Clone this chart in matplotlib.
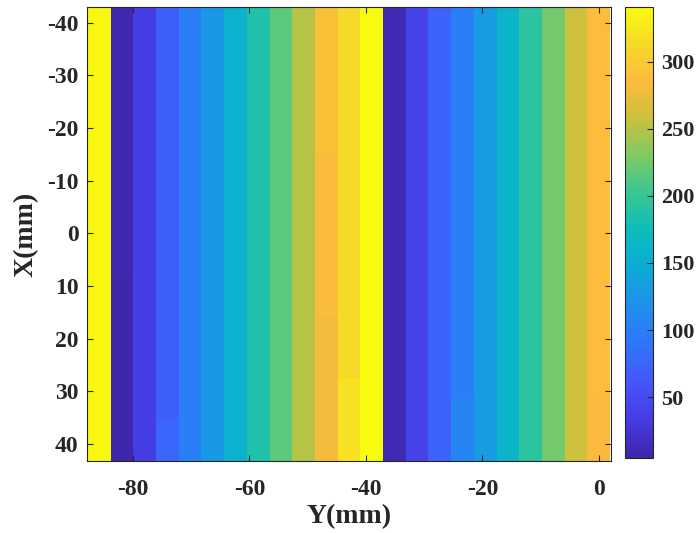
import numpy as np
import matplotlib
matplotlib.use("Agg")
import matplotlib.pyplot as plt
from matplotlib.colors import LinearSegmentedColormap

# column centres along Y (mm) and row centres along X (mm)
y_centres = np.arange(23) * 3.9 - 85.8
x_centres = np.linspace(-41.0, 41.2, 22)

# phase value of each column
col_phase = [338, 8, 36, 70, 100, 127, 156, 186, 216, 250, 284, 314,
             340, 10, 40, 74, 101, 130, 160, 193, 225, 260, 286]

# a few visible row-block differences: (first row, last row, column, value)
tweaks = [(15, 21, 10, 280), (0, 6, 10, 290), (20, 21, 3, 76),
          (13, 21, 1, 6), (18, 21, 11, 320), (0, 3, 12, 341),
          (19, 21, 16, 106), (19, 21, 22, 282)]

phase = np.tile(np.array(col_phase, dtype=float), (len(x_centres), 1))
for r0, r1, c, v in tweaks:
    phase[r0:r1 + 1, c] = v

# parula-like colormap
parula_pts = [
    (0.00, (0.243, 0.150, 0.660)),
    (0.08, (0.275, 0.230, 0.885)),
    (0.17, (0.270, 0.340, 0.985)),
    (0.26, (0.180, 0.470, 0.985)),
    (0.34, (0.120, 0.570, 0.920)),
    (0.43, (0.040, 0.680, 0.830)),
    (0.51, (0.060, 0.740, 0.730)),
    (0.59, (0.230, 0.780, 0.570)),
    (0.67, (0.500, 0.790, 0.390)),
    (0.75, (0.780, 0.760, 0.240)),
    (0.83, (0.985, 0.730, 0.240)),
    (0.92, (0.965, 0.850, 0.160)),
    (1.00, (0.976, 0.983, 0.054)),
]
parula = LinearSegmentedColormap.from_list("parula", parula_pts, N=256)

plt.rcParams['font.family'] = ['Liberation Serif', 'DejaVu Serif']
plt.rcParams['font.weight'] = 'bold'
plt.rcParams['axes.unicode_minus'] = False

fig = plt.figure(figsize=(6.97, 5.33), dpi=100)
ax = fig.add_axes([0.1248, 0.1351, 0.7518, 0.8518])
cax = fig.add_axes([0.8967, 0.1407, 0.0402, 0.8462])

dy = 3.9
dx = x_centres[1] - x_centres[0]
y_edges = np.append(y_centres - dy / 2, y_centres[-1] + dy / 2)
x_edges = np.append(x_centres - dx / 2, x_centres[-1] + dx / 2)

mesh = ax.pcolormesh(y_edges, x_edges, phase, cmap=parula, vmin=4.5, vmax=341)
ax.set_xlim(-87.9, 2.1)
ax.set_ylim(43.2, -43.0)

ax.set_xticks([-80, -60, -40, -20, 0])
ax.set_yticks([-40, -30, -20, -10, 0, 10, 20, 30, 40])
ax.tick_params(direction='in', top=True, right=True, length=4, width=0.8,
               labelsize=17, color='#262626', labelcolor='#262626')
ax.tick_params(axis='x', pad=13)
ax.tick_params(axis='y', pad=6)
for lab in ax.get_xticklabels() + ax.get_yticklabels():
    lab.set_fontweight('bold')
for sp in ax.spines.values():
    sp.set_color('#262626')
    sp.set_linewidth(0.8)

ax.set_xlabel('Y(mm)', fontsize=20, fontweight='bold', labelpad=3, color='#262626')
ax.set_ylabel('X(mm)', fontsize=20, fontweight='bold', labelpad=6, color='#262626')

cb = fig.colorbar(mesh, cax=cax)
cb.set_ticks([50, 100, 150, 200, 250, 300])
cb.ax.tick_params(direction='in', length=4, width=0.8, labelsize=16,
                  color='#262626', labelcolor='#262626', pad=6)
for lab in cb.ax.get_yticklabels():
    lab.set_fontweight('bold')
cb.outline.set_edgecolor('#262626')
cb.outline.set_linewidth(0.8)

fig.savefig('out.png', dpi=100)
